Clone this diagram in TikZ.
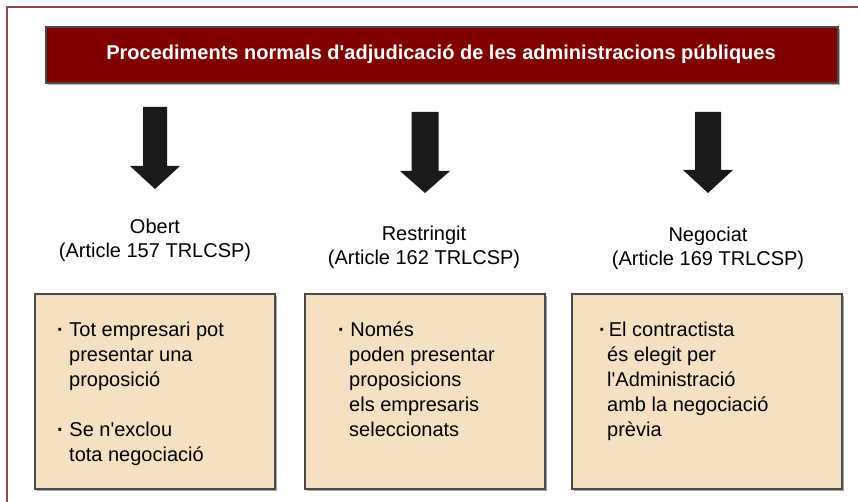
\documentclass[tikz,border=0pt]{standalone}
\usepackage{fontspec}
\setmainfont{Liberation Sans}
\definecolor{titlered}{HTML}{800000}
\definecolor{framered}{HTML}{8E4A4A}
\definecolor{boxfill}{HTML}{F5E1C2}
\definecolor{boxline}{HTML}{4A4A4A}
\definecolor{arrowblack}{HTML}{1A1A1A}
\newcommand{\q}{\textquotesingle}
\newcommand{\fst}{\rule{0pt}{18pt}}
\newcommand{\bul}{\textbf{·}}
\begin{document}
\begin{tikzpicture}[x=1pt,y=-1pt,
  titlebox/.style={draw=boxline, line width=1.5pt, fill=titlered},
  infobox/.style={draw=boxline, line width=1.5pt, fill=boxfill},
  bigarrow/.style={fill=arrowblack},
  lbl/.style={font=\fontsize{20}{24}\selectfont, align=center, text=black},
  boxtext/.style={font=\fontsize{20}{25}\selectfont, align=left, anchor=north west, inner sep=0pt, text=black}]
\useasboundingbox (0,0) rectangle (858,502);
\fill[white] (0,0) rectangle (858,502);
% outer frame
\draw[framered, line width=1.8pt] (7,520) -- (7,7) -- (870,7);
% title
\fill[gray!60] (48,29) rectangle (840,85);
\draw[titlebox] (46,27) rectangle (838,83);
\node[text=white, font=\bfseries\fontsize{20}{24}\selectfont] (title) at (441,54) {Procediments normals d\q adjudicació de les administracions públiques};
% arrows
\newcommand{\myarrow}[7]{% cx, top, headtop, tip, halfshaft, halfhead, name
  \fill[bigarrow] (#1-#5,#2) -- (#1+#5,#2) -- (#1+#5,#3) -- (#1+#6,#3) -- (#1,#4) -- (#1-#6,#3) -- (#1-#5,#3) -- cycle;
  \coordinate (#7) at (#1,#4);}
\myarrow{155}{107}{166}{189}{12}{25}{a1}
\myarrow{425}{112}{171}{193}{13.5}{25}{a2}
\myarrow{708}{112}{170}{193}{13}{25}{a3}
% labels
\node[lbl] (l1) at (155,240) {Obert\\(Article 157 TRLCSP)};
\node[lbl] (l2) at (424,247) {Restringit\\(Article 162 TRLCSP)};
\node[lbl] (l3) at (708,248) {Negociat\\(Article 169 TRLCSP)};
% boxes
\fill[gray!70] (37,296) rectangle (277,491);
\draw[infobox] (35,294) rectangle (275,489);
\fill[gray!70] (307,296) rectangle (547,491);
\draw[infobox] (305,294) rectangle (545,489);
\fill[gray!70] (574,296) rectangle (844,491);
\draw[infobox] (572,294) rectangle (842,489);
\node[boxtext] (t1) at (57,318) {\fst\bul{} Tot empresari pot\\\hspace{12pt}presentar una\\\hspace{12pt}proposició\\[25pt]\bul{} Se n\q exclou\\\hspace{12pt}tota negociació};
\node[boxtext] (t2) at (338,318) {\fst\bul{} Només\\\hspace{11pt}poden presentar\\\hspace{11pt}proposicions\\\hspace{11pt}els empresaris\\\hspace{11pt}seleccionats};
\node[boxtext] (t3) at (599,318) {\fst\bul{}\kern3pt El contractista\\\hspace{8pt}és elegit per\\\hspace{8pt}l\q Administració\\\hspace{8pt}amb la negociació\\\hspace{8pt}prèvia};
\end{tikzpicture}
\end{document}
